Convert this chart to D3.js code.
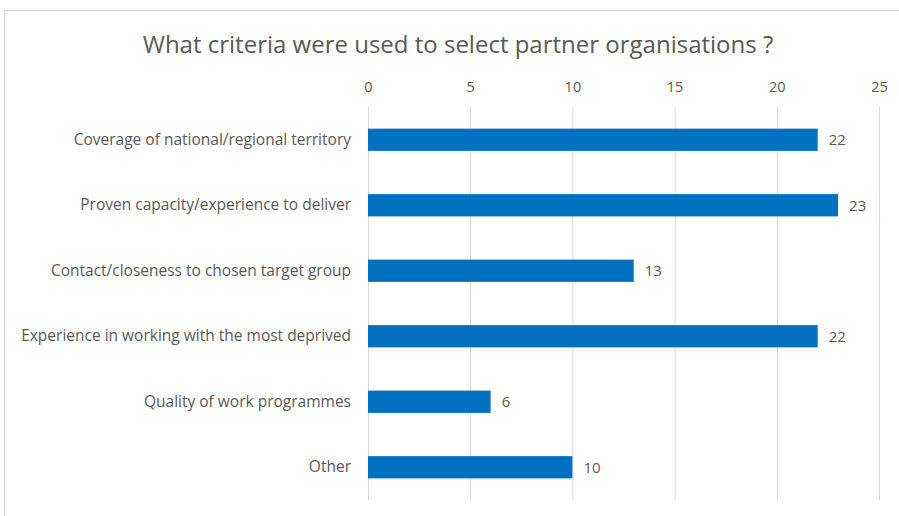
<!DOCTYPE html>
<html><head><meta charset="utf-8">
<script src="https://cdn.jsdelivr.net/npm/d3@7"></script>
<style>html,body{margin:0;padding:0;background:#fff;overflow:hidden}</style>
</head><body>
<svg id="c" width="899" height="516"></svg>
<script>
const categories = [
  "Coverage of national/regional territory",
  "Proven capacity/experience to deliver",
  "Contact/closeness to chosen target group",
  "Experience in working with the most deprived",
  "Quality of work programmes",
  "Other"
];
const values = [22, 23, 13, 22, 6, 10];
const tickValues = [0, 5, 10, 15, 20, 25];
const title = "What criteria were used to select partner organisations ?";

(function () {
const svg = d3.select("#c");
const font = "Open Sans, Liberation Sans, sans-serif";
const txt = "#595959";

svg.append("rect").attr("x", 4.5).attr("y", 10.5).attr("width", 920).attr("height", 520)
  .attr("fill", "#fff").attr("stroke", "#d9d9d9").attr("stroke-width", 1.5);

const pLeft = 368, pRight = 879, pTop = 107, pBottom = 500;
const x = d3.scaleLinear().domain([0, 25]).range([pLeft, pRight]);
const y = d3.scaleBand().domain(categories).range([pTop, pBottom]).paddingInner(0.66).paddingOuter(0.33);

svg.append("text").attr("x", 458).attr("y", 53).attr("text-anchor", "middle")
  .attr("font-family", font).attr("font-size", 24).attr("fill", txt).text(title);

const gx = svg.append("g").attr("transform", `translate(0,${pTop})`)
  .call(d3.axisTop(x).tickValues(tickValues).tickSize(-(pBottom - pTop)).tickPadding(15));
gx.select(".domain").remove();
gx.selectAll(".tick line").attr("stroke", "#d9d9d9").attr("stroke-width", 1);
gx.selectAll(".tick text").attr("font-family", font).attr("font-size", 14.5).attr("fill", txt);

svg.append("g").selectAll("rect").data(values).join("rect")
  .attr("x", x(0)).attr("y", (d, i) => y(categories[i]))
  .attr("width", d => x(d) - x(0)).attr("height", y.bandwidth())
  .attr("fill", "#0070C0");

svg.append("g").selectAll("text").data(values).join("text")
  .attr("x", d => x(d) + 11).attr("y", (d, i) => y(categories[i]) + y.bandwidth() / 2)
  .attr("dy", "0.35em").attr("font-family", font).attr("font-size", 15).attr("fill", txt)
  .text(d => d);

const gy = svg.append("g").attr("transform", `translate(${pLeft},0)`)
  .call(d3.axisLeft(y).tickSize(0).tickPadding(17));
gy.select(".domain").remove();
gy.selectAll(".tick text").attr("font-family", font).attr("font-size", 15.5).attr("fill", txt);
})();
</script>
</body></html>
